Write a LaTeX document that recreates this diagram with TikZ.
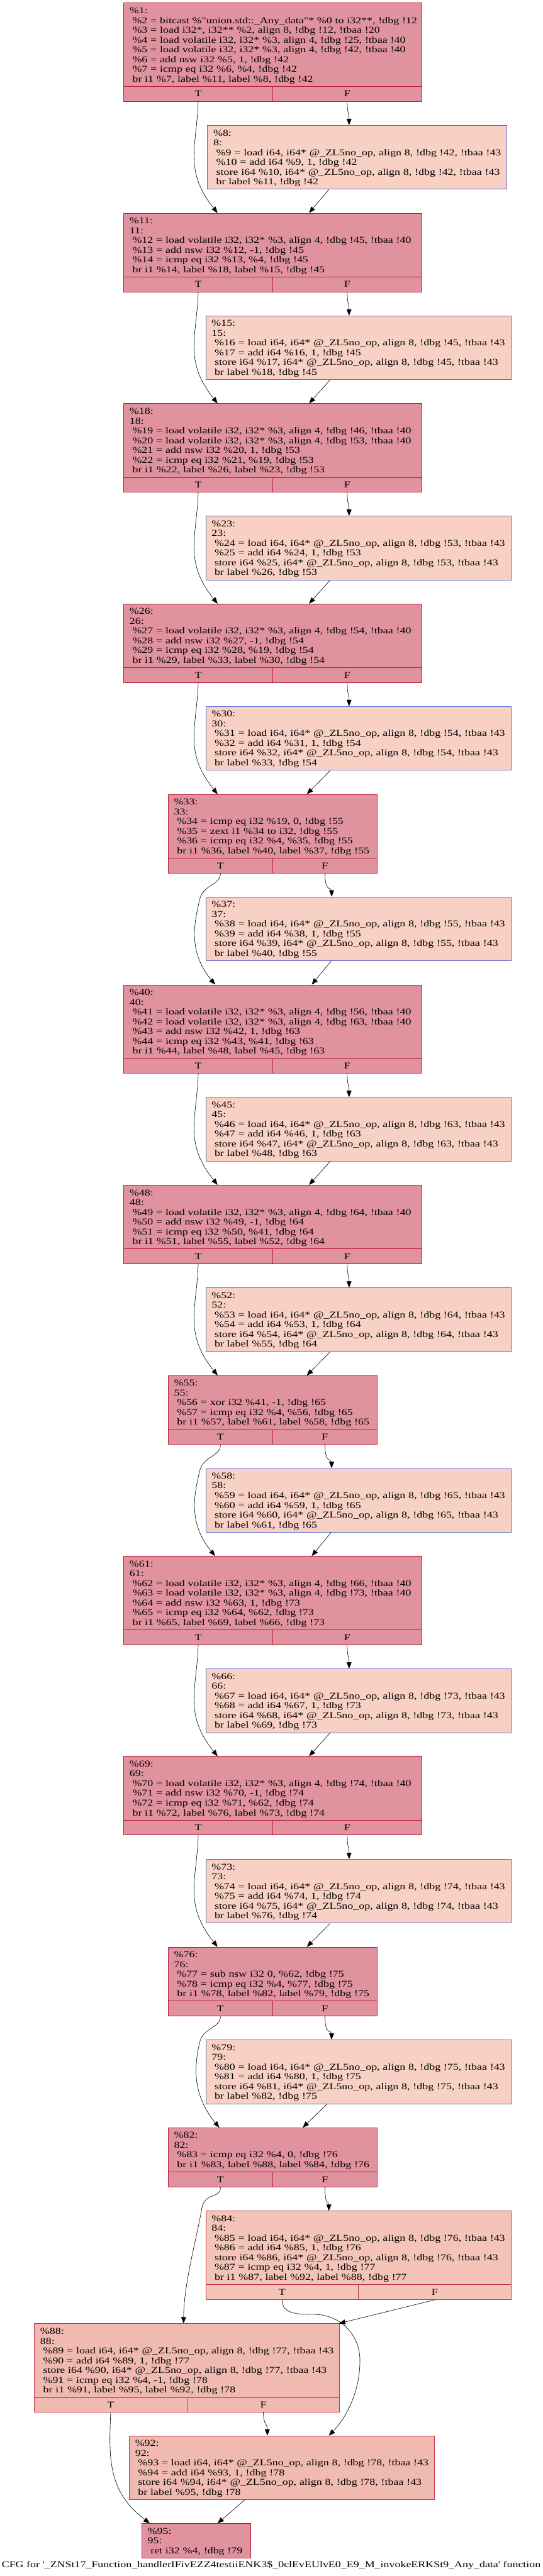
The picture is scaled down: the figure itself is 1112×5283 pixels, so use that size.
\documentclass[tikz,border=0pt]{standalone}
\usepackage{fontspec}
\newfontfamily\cfgfont{Liberation Serif}[FakeStretch=1.25]
\usetikzlibrary{calc,arrows.meta}
\definecolor{hotfill}{HTML}{E0939E}
\definecolor{hotdraw}{HTML}{BE1B38}
\definecolor{coldfill}{HTML}{F9D0C4}
\definecolor{colddraw}{HTML}{5B6DD0}
\definecolor{warmfill}{HTML}{F3C4B7}
\definecolor{warmtwofill}{HTML}{F0BAB0}
\definecolor{warmdraw}{HTML}{C8344A}
\newcommand{\cfgL}[1]{\mbox{\rule[-4pt]{0pt}{20pt}#1}}
\newcommand{\cfgI}[1]{\mbox{\rule[-4pt]{0pt}{20pt}\hspace*{6pt}#1}}
\newcommand{\cfgH}[1]{\cfgL{\%#1:}\\\cfgL{#1:}}
\newcommand{\cfgV}[2]{\cfgI{\%#1 = load volatile i32, i32* \%3, align 4, !dbg !#2, !tbaa !40}}
\newcommand{\cfgCold}[5]{\cfgH{#1}\\\cfgI{\%#2 = load i64, i64* @\_ZL5no\_op, align 8, !dbg !#4, !tbaa !43}\\\cfgI{\%#3 = add i64 \%#2, 1, !dbg !#4}\\\cfgI{store i64 \%#3, i64* @\_ZL5no\_op, align 8, !dbg !#4, !tbaa !43}\\\cfgI{br label \%#5, !dbg !#4}}
\begin{document}
\begin{tikzpicture}[x=1pt,y=1pt,
 cfgtext/.style={font={\cfgfont\fontsize{18.5}{20}\selectfont}},
 blk/.style={cfgtext, draw, line width=1.1pt, anchor=north west, inner xsep=12pt, inner ysep=0pt, align=left},
 port/.style={cfgtext, draw, line width=1.1pt, anchor=north west, inner sep=0pt, minimum height=30.5pt},
 hot/.style={fill=hotfill, draw=hotdraw},
 cold/.style={fill=coldfill, draw=colddraw, text width=601.8pt},
 warm/.style={fill=warmfill, draw=warmdraw},
 warmtwo/.style={fill=warmtwofill, draw=warmdraw},
 wide/.style={text width=587pt},
 narrow/.style={text width=404.4pt},
 halfw/.style={minimum width=305.5pt},
 halfn/.style={minimum width=214.2pt},
 halfr/.style={minimum width=312.9pt},
 lthree/.style={minimum height=71pt},
 lfour/.style={minimum height=90.7pt},
 lfive/.style={minimum height=110.7pt},
 lsix/.style={minimum height=130.7pt},
 lseven/.style={minimum height=151pt},
 leight/.style={minimum height=171pt},
 edge/.style={line width=0.8pt, -{Triangle[length=13pt,width=10pt]}}
]
\useasboundingbox (0,0) rectangle (1112,-5283);

% ---- %1
\node[blk,hot,wide,leight] (b1) at (253,-5.7) {\cfgL{\%1:}\\
\cfgI{\%2 = bitcast \%"union.std::\_Any\_data"* \%0 to i32**, !dbg !12}\\
\cfgI{\%3 = load i32*, i32** \%2, align 8, !dbg !12, !tbaa !20}\\
\cfgV{4}{25}\\
\cfgV{5}{42}\\
\cfgI{\%6 = add nsw i32 \%5, 1, !dbg !42}\\
\cfgI{\%7 = icmp eq i32 \%6, \%4, !dbg !42}\\
\cfgI{br i1 \%7, label \%11, label \%8, !dbg !42}};
\node[port,hot,halfw] (b1T) at (253,-176.7) {T};
\node[port,hot,halfw] (b1F) at (558.5,-176.7) {F};
\node[blk,cold,lsix,text width=589.8pt] (b8) at (424.8,-256.7) {\cfgCold{8}{9}{10}{42}{11}};

% ---- %11
\node[blk,hot,wide,lsix] (b11) at (253,-436.7) {\cfgH{11}\\\cfgV{12}{45}\\
\cfgI{\%13 = add nsw i32 \%12, -1, !dbg !45}\\
\cfgI{\%14 = icmp eq i32 \%13, \%4, !dbg !45}\\
\cfgI{br i1 \%14, label \%18, label \%15, !dbg !45}};
\node[port,hot,halfw] (b11T) at (253,-567.4) {T};
\node[port,hot,halfw] (b11F) at (558.5,-567.4) {F};
\node[blk,cold,lsix] (b15) at (421.3,-647.3) {\cfgCold{15}{16}{17}{45}{18}};

% ---- %18
\node[blk,hot,wide,lseven] (b18) at (253,-827.3) {\cfgH{18}\\\cfgV{19}{46}\\\cfgV{20}{53}\\
\cfgI{\%21 = add nsw i32 \%20, 1, !dbg !53}\\
\cfgI{\%22 = icmp eq i32 \%21, \%19, !dbg !53}\\
\cfgI{br i1 \%22, label \%26, label \%23, !dbg !53}};
\node[port,hot,halfw] (b18T) at (253,-978.3) {T};
\node[port,hot,halfw] (b18F) at (558.5,-978.3) {F};
\node[blk,cold,lsix] (b23) at (421.3,-1058) {\cfgCold{23}{24}{25}{53}{26}};

% ---- %26
\node[blk,hot,wide,lsix] (b26) at (253,-1238) {\cfgH{26}\\\cfgV{27}{54}\\
\cfgI{\%28 = add nsw i32 \%27, -1, !dbg !54}\\
\cfgI{\%29 = icmp eq i32 \%28, \%19, !dbg !54}\\
\cfgI{br i1 \%29, label \%33, label \%30, !dbg !54}};
\node[port,hot,halfw] (b26T) at (253,-1368.7) {T};
\node[port,hot,halfw] (b26F) at (558.5,-1368.7) {F};
\node[blk,cold,lsix] (b30) at (421.3,-1448.3) {\cfgCold{30}{31}{32}{54}{33}};

% ---- %33
\node[blk,hot,narrow,lsix] (b33) at (344.3,-1628.7) {\cfgH{33}\\
\cfgI{\%34 = icmp eq i32 \%19, 0, !dbg !55}\\
\cfgI{\%35 = zext i1 \%34 to i32, !dbg !55}\\
\cfgI{\%36 = icmp eq i32 \%4, \%35, !dbg !55}\\
\cfgI{br i1 \%36, label \%40, label \%37, !dbg !55}};
\node[port,hot,halfn] (b33T) at (344.3,-1759.4) {T};
\node[port,hot,halfn] (b33F) at (558.5,-1759.4) {F};
\node[blk,cold,lsix] (b37) at (421.3,-1839) {\cfgCold{37}{38}{39}{55}{40}};

% ---- %40
\node[blk,hot,wide,lseven] (b40) at (253,-2019.3) {\cfgH{40}\\\cfgV{41}{56}\\\cfgV{42}{63}\\
\cfgI{\%43 = add nsw i32 \%42, 1, !dbg !63}\\
\cfgI{\%44 = icmp eq i32 \%43, \%41, !dbg !63}\\
\cfgI{br i1 \%44, label \%48, label \%45, !dbg !63}};
\node[port,hot,halfw] (b40T) at (253,-2170.3) {T};
\node[port,hot,halfw] (b40F) at (558.5,-2170.3) {F};
\node[blk,cold,lsix] (b45) at (421.3,-2250) {\cfgCold{45}{46}{47}{63}{48}};

% ---- %48
\node[blk,hot,wide,lsix] (b48) at (253,-2430) {\cfgH{48}\\\cfgV{49}{64}\\
\cfgI{\%50 = add nsw i32 \%49, -1, !dbg !64}\\
\cfgI{\%51 = icmp eq i32 \%50, \%41, !dbg !64}\\
\cfgI{br i1 \%51, label \%55, label \%52, !dbg !64}};
\node[port,hot,halfw] (b48T) at (253,-2560.7) {T};
\node[port,hot,halfw] (b48F) at (558.5,-2560.7) {F};
\node[blk,cold,lsix] (b52) at (421.3,-2640.7) {\cfgCold{52}{53}{54}{64}{55}};

% ---- %55
\node[blk,hot,narrow,lfive] (b55) at (344.3,-2820.7) {\cfgH{55}\\
\cfgI{\%56 = xor i32 \%41, -1, !dbg !65}\\
\cfgI{\%57 = icmp eq i32 \%4, \%56, !dbg !65}\\
\cfgI{br i1 \%57, label \%61, label \%58, !dbg !65}};
\node[port,hot,halfn] (b55T) at (344.3,-2931.4) {T};
\node[port,hot,halfn] (b55F) at (558.5,-2931.4) {F};
\node[blk,cold,lsix] (b58) at (421.3,-3011) {\cfgCold{58}{59}{60}{65}{61}};

% ---- %61
\node[blk,hot,wide,lseven] (b61) at (253,-3191) {\cfgH{61}\\\cfgV{62}{66}\\\cfgV{63}{73}\\
\cfgI{\%64 = add nsw i32 \%63, 1, !dbg !73}\\
\cfgI{\%65 = icmp eq i32 \%64, \%62, !dbg !73}\\
\cfgI{br i1 \%65, label \%69, label \%66, !dbg !73}};
\node[port,hot,halfw] (b61T) at (253,-3342) {T};
\node[port,hot,halfw] (b61F) at (558.5,-3342) {F};
\node[blk,cold,lsix] (b66) at (421.3,-3422) {\cfgCold{66}{67}{68}{73}{69}};

% ---- %69
\node[blk,hot,wide,lsix] (b69) at (253,-3601.7) {\cfgH{69}\\\cfgV{70}{74}\\
\cfgI{\%71 = add nsw i32 \%70, -1, !dbg !74}\\
\cfgI{\%72 = icmp eq i32 \%71, \%62, !dbg !74}\\
\cfgI{br i1 \%72, label \%76, label \%73, !dbg !74}};
\node[port,hot,halfw] (b69T) at (253,-3732.4) {T};
\node[port,hot,halfw] (b69F) at (558.5,-3732.4) {F};
\node[blk,cold,lsix] (b73) at (421.3,-3812.7) {\cfgCold{73}{74}{75}{74}{76}};

% ---- %76
\node[blk,hot,narrow,lfive] (b76) at (344.3,-3992.7) {\cfgH{76}\\
\cfgI{\%77 = sub nsw i32 0, \%62, !dbg !75}\\
\cfgI{\%78 = icmp eq i32 \%4, \%77, !dbg !75}\\
\cfgI{br i1 \%78, label \%82, label \%79, !dbg !75}};
\node[port,hot,halfn] (b76T) at (344.3,-4103.4) {T};
\node[port,hot,halfn] (b76F) at (558.5,-4103.4) {F};
\node[blk,cold,lsix] (b79) at (421.3,-4183) {\cfgCold{79}{80}{81}{75}{82}};

% ---- %82
\node[blk,hot,narrow,lfour] (b82) at (344.3,-4363.3) {\cfgH{82}\\
\cfgI{\%83 = icmp eq i32 \%4, 0, !dbg !76}\\
\cfgI{br i1 \%83, label \%88, label \%84, !dbg !76}};
\node[port,hot,halfn] (b82T) at (344.3,-4454) {T};
\node[port,hot,halfn] (b82F) at (558.5,-4454) {F};

% ---- %84
\node[blk,warm,lseven,text width=601.8pt] (b84) at (421.3,-4534) {\cfgH{84}\\
\cfgI{\%85 = load i64, i64* @\_ZL5no\_op, align 8, !dbg !76, !tbaa !43}\\
\cfgI{\%86 = add i64 \%85, 1, !dbg !76}\\
\cfgI{store i64 \%86, i64* @\_ZL5no\_op, align 8, !dbg !76, !tbaa !43}\\
\cfgI{\%87 = icmp eq i32 \%4, 1, !dbg !77}\\
\cfgI{br i1 \%87, label \%92, label \%88, !dbg !77}};
\node[port,warm,halfr] (b84T) at (421.3,-4685) {T};
\node[port,warm,halfr] (b84F) at (734.2,-4685) {F};

% ---- %88
\node[blk,warmtwo,lseven,text width=601.8pt] (b88) at (69.9,-4765) {\cfgH{88}\\
\cfgI{\%89 = load i64, i64* @\_ZL5no\_op, align 8, !dbg !77, !tbaa !43}\\
\cfgI{\%90 = add i64 \%89, 1, !dbg !77}\\
\cfgI{store i64 \%90, i64* @\_ZL5no\_op, align 8, !dbg !77, !tbaa !43}\\
\cfgI{\%91 = icmp eq i32 \%4, -1, !dbg !78}\\
\cfgI{br i1 \%91, label \%95, label \%92, !dbg !78}};
\node[port,warmtwo,halfr] (b88T) at (69.9,-4916) {T};
\node[port,warmtwo,halfr] (b88F) at (382.8,-4916) {F};

% ---- %92, %95
\node[blk,warmtwo,lsix,text width=601.8pt] (b92) at (264.5,-4995) {\cfgCold{92}{93}{94}{78}{95}};
\node[blk,hot,lthree,text width=199.1pt] (b95) at (290.1,-5175) {\cfgH{95}\\\cfgI{ret i32 \%4, !dbg !79}};

\node[cfgtext,inner sep=0pt] (cap) at (556,-5261) {CFG for '\_ZNSt17\_Function\_handlerIFivEZZ4testiiENK3\$\_0clEvEUlvE0\_E9\_M\_invokeERKSt9\_Any\_data' function};

% ---- edges
% 1 -> 8 -> 11
\draw[edge] (b1F.south) .. controls +(0,-25) and +(0,25) .. ([xshift=-16.7pt]b8.north);
\draw[edge] ([xshift=-58pt]b8.south) -- ([xshift=74.5pt]b11.north);
\draw[edge] (b1T.south) .. controls +(-3,-92) and +(-70,87) .. ([xshift=-113pt]b11.north);
% 11 -> 15 -> 18
\draw[edge] (b11F.south) .. controls +(0,-25) and +(0,25) .. ([xshift=-19.2pt]b15.north);
\draw[edge] ([xshift=-58pt]b15.south) -- ([xshift=74.5pt]b18.north);
\draw[edge] (b11T.south) .. controls +(-3,-92) and +(-70,87) .. ([xshift=-113pt]b18.north);
% 18 -> 23 -> 26
\draw[edge] (b18F.south) .. controls +(0,-25) and +(0,25) .. ([xshift=-19.2pt]b23.north);
\draw[edge] ([xshift=-58pt]b23.south) -- ([xshift=74.5pt]b26.north);
\draw[edge] (b18T.south) .. controls +(-3,-92) and +(-70,87) .. ([xshift=-113pt]b26.north);
% 26 -> 30 -> 33
\draw[edge] (b26F.south) .. controls +(0,-25) and +(0,25) .. ([xshift=-19.2pt]b30.north);
\draw[edge] ([xshift=-58pt]b30.south) -- ([xshift=70pt]b33.north);
\draw[edge] (b26T.south) .. controls +(-3,-92) and +(-70,87) .. ([xshift=-113pt]b33.north);
% 33 -> 37 -> 40
\draw[edge] (b33F.south) .. controls +(0,-40) and +(0,20) .. ([xshift=-55pt]b37.north);
\draw[edge] ([xshift=-56pt]b37.south) -- ([xshift=80pt]b40.north);
\draw[edge] (b33T.south) .. controls +(0,-25) and +(7,33) .. ($(b33T.south)+(-43,-55)$) .. controls +(-10,-45) and +(-57,69) .. ([xshift=-118pt]b40.north);
% 40 -> 45 -> 48
\draw[edge] (b40F.south) .. controls +(0,-25) and +(0,25) .. ([xshift=-19.2pt]b45.north);
\draw[edge] ([xshift=-58pt]b45.south) -- ([xshift=74.5pt]b48.north);
\draw[edge] (b40T.south) .. controls +(-3,-92) and +(-70,87) .. ([xshift=-113pt]b48.north);
% 48 -> 52 -> 55
\draw[edge] (b48F.south) .. controls +(0,-25) and +(0,25) .. ([xshift=-19.2pt]b52.north);
\draw[edge] ([xshift=-58pt]b52.south) -- ([xshift=70pt]b55.north);
\draw[edge] (b48T.south) .. controls +(-3,-92) and +(-70,87) .. ([xshift=-113pt]b55.north);
% 55 -> 58 -> 61
\draw[edge] (b55F.south) .. controls +(0,-40) and +(0,20) .. ([xshift=-55pt]b58.north);
\draw[edge] ([xshift=-56pt]b58.south) -- ([xshift=80pt]b61.north);
\draw[edge] (b55T.south) .. controls +(0,-25) and +(7,33) .. ($(b55T.south)+(-43,-55)$) .. controls +(-10,-45) and +(-57,69) .. ([xshift=-118pt]b61.north);
% 61 -> 66 -> 69
\draw[edge] (b61F.south) .. controls +(0,-25) and +(0,25) .. ([xshift=-19.2pt]b66.north);
\draw[edge] ([xshift=-58pt]b66.south) -- ([xshift=74.5pt]b69.north);
\draw[edge] (b61T.south) .. controls +(-3,-92) and +(-70,87) .. ([xshift=-113pt]b69.north);
% 69 -> 73 -> 76
\draw[edge] (b69F.south) .. controls +(0,-25) and +(0,25) .. ([xshift=-19.2pt]b73.north);
\draw[edge] ([xshift=-58pt]b73.south) -- ([xshift=70pt]b76.north);
\draw[edge] (b69T.south) .. controls +(-3,-92) and +(-70,87) .. ([xshift=-113pt]b76.north);
% 76 -> 79 -> 82
\draw[edge] (b76F.south) .. controls +(0,-40) and +(0,20) .. ([xshift=-55pt]b79.north);
\draw[edge] ([xshift=-64pt]b79.south) -- ([xshift=61.5pt]b82.north);
\draw[edge] (b76T.south) .. controls +(0,-25) and +(7,33) .. ($(b76T.south)+(-43,-55)$) .. controls +(-10,-45) and +(-57,69) .. ([xshift=-109.5pt]b82.north);
% 82 -> 84 / 88
\draw[edge] (b82F.south) .. controls +(0,-40) and +(0,20) .. ([xshift=-60.6pt]b84.north);
\draw[edge] (b82T.south) .. controls +(0,-25) and +(7,33) .. ($(b82T.south)+(-38,-42)$) .. controls +(-8,-50) and +(0,80) .. ([xshift=-7pt]b88.north);
% 84 -> 92 / 88
\draw[edge] (b84T.south) .. controls +(0,-28) and +(-40,0) .. ($(b84T.south)+(67.5,-30)$) .. controls +(45,0) and +(0,60) .. ($(b84T.south)+(159.5,-125)$) .. controls +(0,-70) and +(30,30) .. ([xshift=96pt]b92.north);
\draw[edge] (b84F.south) -- ([xshift=-2pt]b88.north east);
% 88 -> 95 / 92
\draw[edge] (b88T.south) .. controls +(-4,-94) and +(-86,65) .. ([xshift=-95pt]b95.north);
\draw[edge] (b88F.south) .. controls +(0,-25) and +(0,25) .. ([xshift=-30pt]b92.north);
% 92 -> 95
\draw[edge] ([xshift=-76.4pt]b92.south) -- ([xshift=43.8pt]b95.north);
\end{tikzpicture}
\end{document}
